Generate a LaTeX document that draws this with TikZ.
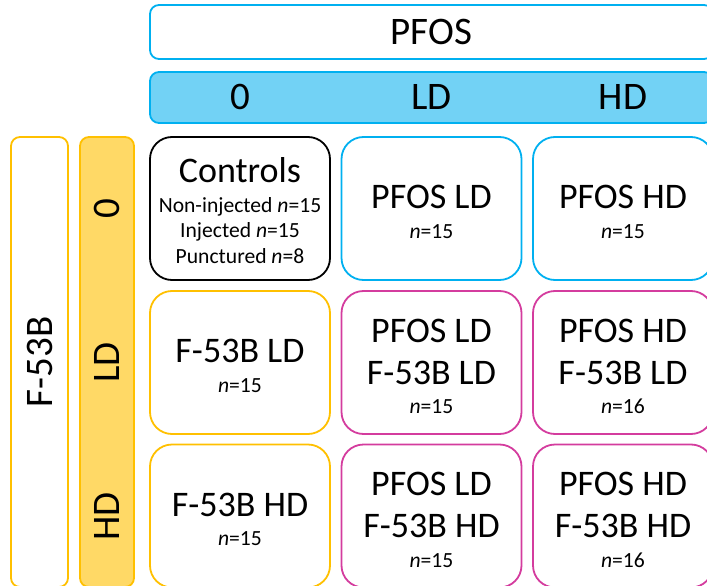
\documentclass[tikz,border=0pt]{standalone}
\usepackage{fontspec}
\setmainfont{Carlito}
\definecolor{pfosblue}{HTML}{00B0F0}
\definecolor{pfosfill}{HTML}{72D2F5}
\definecolor{fgold}{HTML}{FFC000}
\definecolor{ffill}{HTML}{FFD966}
\definecolor{mixpink}{HTML}{D43C9E}
\tikzset{
  cellbox/.style={draw, line width=1.8pt, rounded corners=22pt, fill=white,
    minimum width=180pt, minimum height=143pt, inner sep=0pt},
  bluecell/.style={cellbox, draw=pfosblue},
  goldcell/.style={cellbox, draw=fgold},
  pinkcell/.style={cellbox, draw=mixpink},
  ctrlcell/.style={cellbox, draw=black},
  headbox/.style={draw=pfosblue, line width=1.8pt, rounded corners=9pt,
    minimum width=563pt, inner sep=0pt},
  sidebox/.style={draw=fgold, line width=1.8pt, rounded corners=9pt,
    minimum height=450pt, inner sep=0pt},
  headtxt/.style={font=\fontsize{39}{42}\selectfont, inner sep=0pt},
  bigtxt/.style={font=\fontsize{36}{40}\selectfont, inner sep=0pt, anchor=base},
  smalltxt/.style={font=\fontsize{21.6}{24}\selectfont, inner sep=0pt, anchor=base},
  vtxt/.style={font=\fontsize{39}{42}\selectfont, inner sep=0pt, rotate=90}
}
\begin{document}
\begin{tikzpicture}[x=1pt,y=-1pt]
\useasboundingbox (0,0) rectangle (707,586);
\clip (0,0) rectangle (707,586);

% column headers
\node[headbox, minimum height=54pt] (pfos) at (431.5,32) {};
\node[headtxt, anchor=base] (pfost) at (431.5,45) {PFOS};
\node[headbox, fill=pfosfill, minimum height=51pt] (pdose) at (431.5,97.5) {};
\node[headtxt, anchor=base] (p0) at (240,109) {0};
\node[headtxt, anchor=base] (pld) at (431.5,109) {LD};
\node[headtxt, anchor=base] (phd) at (623,109) {HD};

% row headers
\node[sidebox, minimum width=57pt] (f53) at (39.5,362) {};
\node[vtxt] (f53t) at (39.5,362) {F-53B};
\node[sidebox, fill=ffill, minimum width=54pt] (fdose) at (107,362) {};
\node[vtxt] (f0) at (107,208.5) {0};
\node[vtxt] (fld) at (107,362.5) {LD};
\node[vtxt] (fhd) at (107,516.5) {HD};

% row 1
\node[ctrlcell] (c11) at (240,208.5) {};
\node[bigtxt] (c11a) at (240,182) {Controls};
\node[smalltxt] (c11b) at (240,212) {Non-injected \textit{n}=15};
\node[smalltxt] (c11c) at (240,237.5) {Injected \textit{n}=15};
\node[smalltxt] (c11d) at (240,263) {Punctured \textit{n}=8};

\node[bluecell] (c12) at (431.5,208.5) {};
\node[bigtxt] (c12a) at (431.5,208) {PFOS LD};
\node[smalltxt] (c12b) at (431.5,238) {\textit{n}=15};

\node[bluecell] (c13) at (623,208.5) {};
\node[bigtxt] (c13a) at (623,208) {PFOS HD};
\node[smalltxt] (c13b) at (623,238) {\textit{n}=15};

% row 2
\node[goldcell] (c21) at (240,362.5) {};
\node[bigtxt] (c21a) at (240,362) {F-53B LD};
\node[smalltxt] (c21b) at (240,392) {\textit{n}=15};

\node[pinkcell] (c22) at (431.5,362.5) {};
\node[bigtxt] (c22a) at (431.5,342) {PFOS LD};
\node[bigtxt] (c22b) at (431.5,384) {F-53B LD};
\node[smalltxt] (c22c) at (431.5,413) {\textit{n}=15};

\node[pinkcell] (c23) at (623,362.5) {};
\node[bigtxt] (c23a) at (623,342) {PFOS HD};
\node[bigtxt] (c23b) at (623,384) {F-53B LD};
\node[smalltxt] (c23c) at (623,413) {\textit{n}=16};

% row 3
\node[goldcell] (c31) at (240,516) {};
\node[bigtxt] (c31a) at (240,516.5) {F-53B HD};
\node[smalltxt] (c31b) at (240,545.5) {\textit{n}=15};

\node[pinkcell] (c32) at (431.5,516) {};
\node[bigtxt] (c32a) at (431.5,495.5) {PFOS LD};
\node[bigtxt] (c32b) at (431.5,537) {F-53B HD};
\node[smalltxt] (c32c) at (431.5,567) {\textit{n}=15};

\node[pinkcell] (c33) at (623,516) {};
\node[bigtxt] (c33a) at (623,495.5) {PFOS HD};
\node[bigtxt] (c33b) at (623,537) {F-53B HD};
\node[smalltxt] (c33c) at (623,567) {\textit{n}=16};
\end{tikzpicture}
\end{document}
